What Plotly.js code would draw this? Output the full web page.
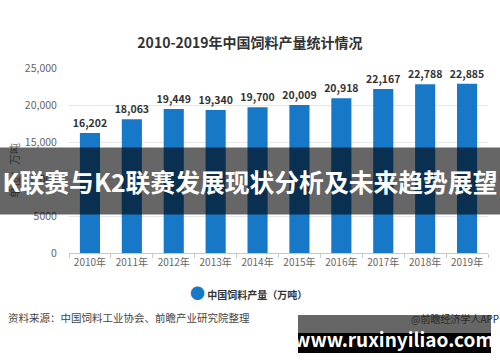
<!DOCTYPE html>
<html>
<head>
<meta charset="utf-8">
<script src="https://cdn.plot.ly/plotly-3.0.1.min.js"></script>
<style>html,body{margin:0;padding:0;background:#fff;}#chart{width:500px;height:362px;}</style>
</head>
<body>
<div id="chart"></div>
<script>
const years = ['2010年','2011年','2012年','2013年','2014年','2015年','2016年','2017年','2018年','2019年'];
const production = [16202, 18063, 19449, 19340, 19700, 20009, 20918, 22167, 22788, 22885];
const yTickVals = [0, 5000, 10000, 15000, 20000, 25000];
const yTickText = ['0', '5000', '10,000', '15,000', '20,000', '25,000'];
const chartTitle = '2010-2019年中国饲料产量统计情况';
const seriesName = '中国饲料产量（万吨）';
const yTitle = '单位：万吨';
const sourceText = '资料来源：中国饲料工业协会、前瞻产业研究院整理';
const bannerText = 'K联赛与K2联赛发展现状分析及未来趋势展望';
const credit = '@前瞻经济学人APP';
const siteText = 'www.ruxinyiliao.com';

const FONT = '"Noto Sans CJK SC", "Noto Sans", sans-serif';
const BLUE = '#1878c8';

const trace = {
  type: 'bar',
  x: years,
  y: production,
  name: seriesName,
  marker: {color: BLUE},
  texttemplate: '%{y:,}',
  textposition: 'outside',
  constraintext: 'none',
  textfont: {family: FONT, size: 10.5, color: '#333', weight: 'bold'},
  cliponaxis: false,
  showlegend: false,
  hoverinfo: 'x+y'
};

const layout = {
  width: 500, height: 362,
  margin: {l: 69, r: 12, t: 68, b: 109},
  paper_bgcolor: '#fff', plot_bgcolor: '#fff',
  font: {family: FONT, color: '#666', size: 10},
  bargap: 0.52,
  showlegend: false,
  title: {
    text: chartTitle,
    font: {family: FONT, size: 14, color: '#333', weight: 'bold'},
    x: 0.5, xref: 'container', xanchor: 'center',
    y: 1 - 43/362, yref: 'container', yanchor: 'middle'
  },
  xaxis: {
    type: 'category',
    showline: true, linecolor: '#c8c8c8', linewidth: 1,
    ticks: 'outside', tickson: 'boundaries', ticklen: 4, tickcolor: '#c8c8c8',
    tickfont: {family: FONT, size: 10, color: '#666'},
    showgrid: false, fixedrange: true
  },
  yaxis: {
    range: [0, 25000],
    tickvals: yTickVals, ticktext: yTickText,
    tickfont: {family: FONT, size: 10.5, color: '#666'},
    showgrid: true, gridcolor: '#e6e6e6', zeroline: false,
    ticks: 'outside', ticklen: 9, tickcolor: 'rgba(0,0,0,0)',
    showline: false, fixedrange: true
  },
  shapes: [
    {type: 'rect', xref: 'paper', yref: 'paper', layer: 'above',
     x0: (298-69)/419, x1: (491-69)/419, y0: (253-333)/185, y1: (253-315)/185,
     fillcolor: 'rgba(0,0,0,0.6)', line: {width: 0}},
    {type: 'rect', xref: 'paper', yref: 'paper', layer: 'above',
     x0: (298-69)/419, x1: (491-69)/419, y0: (253-353)/185, y1: (253-333)/185,
     fillcolor: '#000', line: {width: 0}}
  ],
  annotations: [
    {text: yTitle, xref: 'paper', yref: 'paper', x: (14-69)/419, y: (253-171)/185,
     xanchor: 'center', yanchor: 'middle', textangle: -90, showarrow: false,
     font: {family: FONT, size: 11, color: '#777'}},
    {text: bannerText, xref: 'paper', yref: 'paper', x: (250-69)/419, y: (253-181)/185,
     xanchor: 'center', yanchor: 'middle', showarrow: false,
     width: 504, height: 66, borderpad: 0, bgcolor: 'rgba(0,0,0,0.6)',
     font: {family: FONT, size: 24.8, color: '#fff', weight: 'bold'}},
    {text: '<span style="color:' + BLUE + ';font-size:15px">●</span> ' + seriesName,
     xref: 'paper', yref: 'paper', x: (248-69)/419, y: (253-292)/185,
     xanchor: 'center', yanchor: 'middle', showarrow: false,
     font: {family: FONT, size: 10, color: '#333', weight: 'bold'}},
    {text: sourceText, xref: 'paper', yref: 'paper', x: (6-69)/419, y: (253-317)/185,
     xanchor: 'left', yanchor: 'middle', showarrow: false,
     font: {family: FONT, size: 10.5, color: '#444'}},
    {text: credit, xref: 'paper', yref: 'paper', x: (501-69)/419, y: (253-318)/185,
     xanchor: 'right', yanchor: 'middle', showarrow: false,
     font: {family: FONT, size: 10, color: '#2a2a2a'}},
    {text: siteText, xref: 'paper', yref: 'paper', x: (394-69)/419, y: (253-338)/185,
     xanchor: 'center', yanchor: 'middle', showarrow: false,
     font: {family: FONT, size: 19, color: '#fff', weight: 'bold'}}
  ]
};

Plotly.newPlot('chart', [trace], layout, {displayModeBar: false, staticPlot: true});
</script>
</body>
</html>
